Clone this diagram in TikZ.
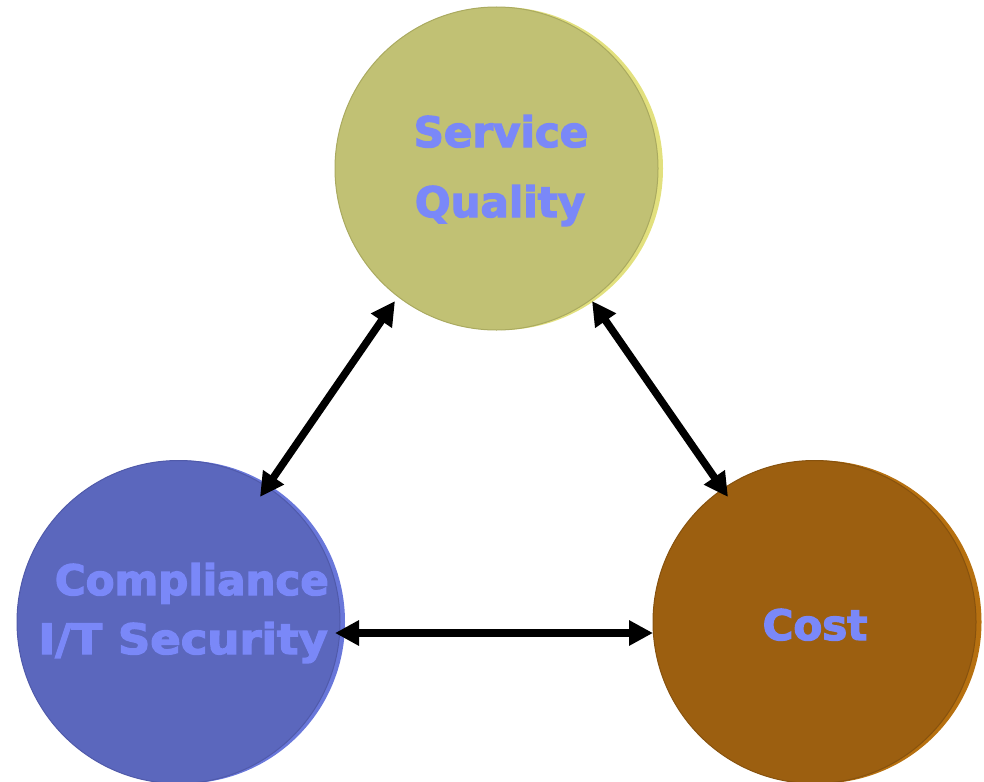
\documentclass[tikz,border=0pt]{standalone}
\usepackage{fontspec}
\setmainfont{DejaVu Sans}
\newfontfamily\lblfont[FakeBold=3]{DejaVu Sans Bold}
\usetikzlibrary{arrows.meta,calc}
\definecolor{sqmain}{RGB}{193,193,116}
\definecolor{sqrim}{RGB}{226,224,126}
\definecolor{sqedge}{RGB}{170,170,96}
\definecolor{comain}{RGB}{91,103,189}
\definecolor{corim}{RGB}{105,119,218}
\definecolor{coedge}{RGB}{80,90,170}
\definecolor{csmain}{RGB}{156,95,16}
\definecolor{csrim}{RGB}{182,112,16}
\definecolor{csedge}{RGB}{135,82,14}
\definecolor{txtblue}{RGB}{122,136,248}
\tikzset{
  disc/.style={circle, minimum size=323pt, inner sep=0pt, outer sep=0pt},
  lbl/.style={font=\lblfont\fontsize{42}{50}\selectfont, text=txtblue, inner sep=0pt, anchor=base},
  link/.style={line width=7.5pt, {Triangle[length=24pt,width=24pt]}-{Triangle[length=24pt,width=24pt]}}
}
\begin{document}
\begin{tikzpicture}[x=1pt,y=-1pt]
\useasboundingbox (0,0) rectangle (984,781);
% Service Quality
\node[disc, fill=sqrim] (sqr) at (501.5,168.5) {};
\node[disc, fill=sqmain, draw=sqedge, line width=1pt] (sq) at (496.5,168.5) {};
% Compliance
\node[disc, fill=corim] (cor) at (183.5,622) {};
\node[disc, fill=comain, draw=coedge, line width=1pt] (co) at (178.5,622) {};
% Cost
\node[disc, fill=csrim] (csr) at (820,622) {};
\node[disc, fill=csmain, draw=csedge, line width=1pt] (cs) at (814.5,622) {};
% labels
\node[lbl] (t1) at (501,147) {Service};
\node[lbl] (t2) at (500,217) {Quality};
\node[lbl, anchor=base east] (t3) at (329,595) {Compliance};
\node[lbl, anchor=base east, xscale=1.07] (t4) at (328,654) {I/T Security};
\node[lbl] (t5) at (815,640) {Cost};
% connector ends on the discs
\coordinate (sqA) at ($(sq.center)+(-101.5,132.5)$);
\coordinate (sqC) at ($(sq.center)+(95.5,132.5)$);
\coordinate (coB) at ($(co.center)+(81.5,-125)$);
\coordinate (coE) at ($(co.center)+(156.5,11)$);
\coordinate (csD) at ($(cs.center)+(-86.5,-125)$);
\coordinate (csF) at ($(cs.center)+(-161.5,11)$);
% connectors
\draw[link] (sqA) -- (coB);
\draw[link] (sqC) -- (csD);
\draw[link] (coE) -- (csF);
\end{tikzpicture}
\end{document}
